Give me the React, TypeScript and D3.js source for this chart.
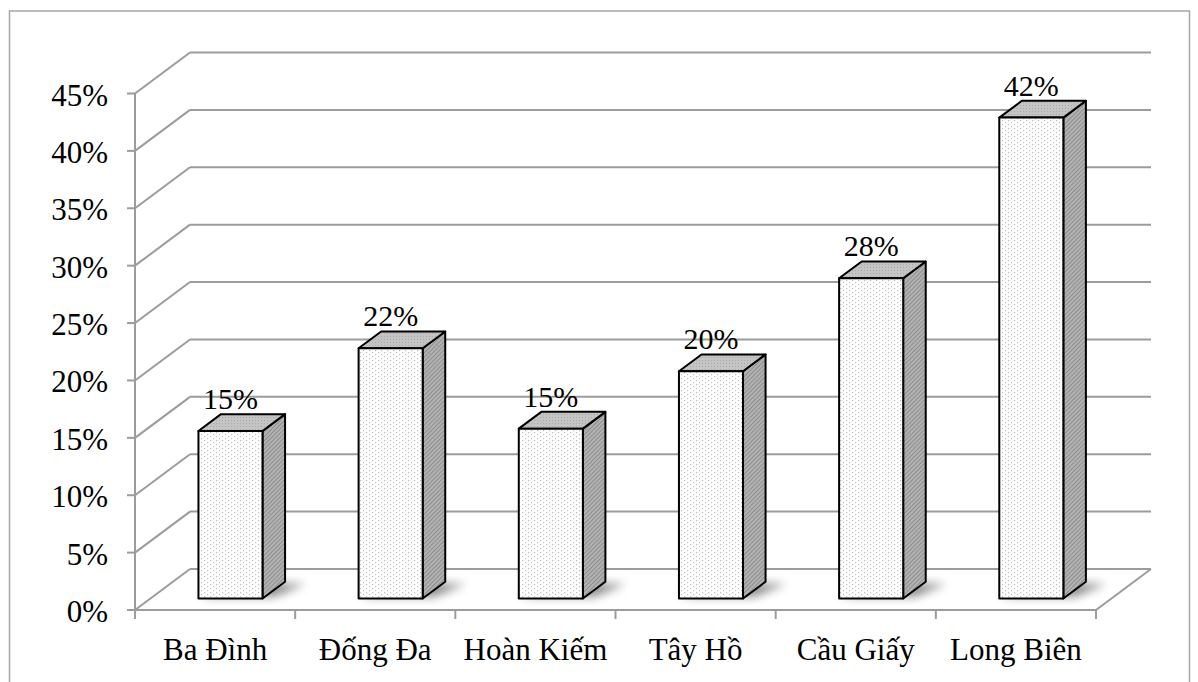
import React from "react";
import * as d3 from "d3";

const categories = ["Ba Đình", "Đống Đa", "Hoàn Kiếm", "Tây Hồ", "Cầu Giấy", "Long Biên"];
const values = [0.146, 0.218, 0.148, 0.198, 0.279, 0.419];
const yTicks = [0, 0.05, 0.1, 0.15, 0.2, 0.25, 0.3, 0.35, 0.4, 0.45];

const W = 1198;
const H = 682;
const DX = 55;
const DY = -41;
const T0 = 0.28;
const T1 = 0.69;
const FONT = "'Times New Roman', 'Liberation Serif', serif";

export default function App() {
  const x = d3
    .scaleBand<string>()
    .domain(categories)
    .range([135, 1096])
    .paddingInner(0.6)
    .paddingOuter(0.3);
  const y = d3.scaleLinear().domain([0, 0.45]).range([610, 93.5]);
  const fmt = d3.format(".0%");
  const step = x.step();
  const x0r = 135;
  const x1r = 1096;
  const bw = x.bandwidth();
  const ddx = (T1 - T0) * DX;
  const ddy = (T1 - T0) * DY;
  const grid = "#9c9c9c";
  const pts = (p: number[][]) => p.map((q) => q.join(",")).join(" ");

  return (
    <svg
      width={W}
      height={H}
      style={{ position: "absolute", left: 0, top: 0, background: "#fff" }}
    >
      <defs>
        <pattern id="dots" width="6" height="4" patternUnits="userSpaceOnUse">
          <rect width="6" height="4" fill="#ffffff" />
          <rect x="0" y="0" width="1.2" height="1.2" fill="#bdbdbd" />
          <rect x="3" y="2" width="1.2" height="1.2" fill="#bdbdbd" />
        </pattern>
        <pattern id="topPat" width="3" height="3" patternUnits="userSpaceOnUse">
          <rect width="3" height="3" fill="#c4c4c4" />
          <rect x="0" y="0" width="1" height="1" fill="#aaaaaa" />
        </pattern>
        <pattern
          id="sidePat"
          width="3"
          height="3"
          patternUnits="userSpaceOnUse"
          patternTransform="rotate(45)"
        >
          <rect width="3" height="3" fill="#b2b2b2" />
          <rect x="0" y="0" width="1" height="3" fill="#8f8f8f" />
        </pattern>
        <filter id="blur" x="-50%" y="-200%" width="200%" height="500%">
          <feGaussianBlur stdDeviation="5" />
        </filter>
      </defs>

      {/* outer border */}
      <rect x={9.5} y={11} width={1180} height={690} fill="#fff" stroke="#a6a6a6" strokeWidth={1.5} />

      {/* grid: left wall diagonals + back wall */}
      {yTicks.map((t) => (
        <g key={"g" + t}>
          <line x1={x0r} y1={y(t)} x2={x0r + DX} y2={y(t) + DY} stroke={grid} strokeWidth={2} />
          <line x1={x0r + DX} y1={y(t) + DY} x2={x1r + DX} y2={y(t) + DY} stroke={grid} strokeWidth={2} />
        </g>
      ))}
      {/* floor */}
      <line x1={x0r} y1={y(0)} x2={x1r} y2={y(0)} stroke={grid} strokeWidth={2} />
      <line x1={x1r} y1={y(0)} x2={x1r + DX} y2={y(0) + DY} stroke={grid} strokeWidth={2} />
      {/* vertical axis */}
      <line x1={x0r} y1={y(0.45)} x2={x0r} y2={y(0)} stroke={grid} strokeWidth={2} />
      {yTicks.map((t) => (
        <line key={"t" + t} x1={x0r - 8} y1={y(t)} x2={x0r} y2={y(t)} stroke={grid} strokeWidth={2} />
      ))}
      {d3.range(categories.length + 1).map((i) => (
        <line
          key={"c" + i}
          x1={x0r + i * step}
          y1={y(0)}
          x2={x0r + i * step}
          y2={y(0) + 9}
          stroke={grid}
          strokeWidth={2}
        />
      ))}

      {/* y labels */}
      {yTicks.map((t) => (
        <text
          key={"yl" + t}
          x={108}
          y={y(t) + 12}
          textAnchor="end"
          fontFamily={FONT}
          fontSize={31}
          fill="#000"
        >
          {fmt(t)}
        </text>
      ))}

      {/* shadows */}
      {categories.map((c) => {
        const bx = (x(c) as number) + T0 * DX;
        const by = y(0) + T0 * DY;
        return (
          <polygon
            key={"s" + c}
            points={pts([
              [bx + 2, by - 2],
              [bx + bw + 12, by - 2],
              [bx + bw + ddx + 20, by + ddy + 2],
              [bx + ddx + 8, by + ddy + 2],
            ])}
            fill="#555"
            opacity={0.7}
            filter="url(#blur)"
          />
        );
      })}

      {/* bars */}
      {categories.map((c, i) => {
        const v = values[i];
        const bx = (x(c) as number) + T0 * DX;
        const yb = y(0) + T0 * DY;
        const yt = y(v) + T0 * DY;
        return (
          <g key={"b" + c} stroke="#000" strokeWidth={2} strokeLinejoin="round">
            <polygon
              points={pts([
                [bx + bw, yt],
                [bx + bw + ddx, yt + ddy],
                [bx + bw + ddx, yb + ddy],
                [bx + bw, yb],
              ])}
              fill="url(#sidePat)"
            />
            <polygon
              points={pts([
                [bx, yt],
                [bx + bw, yt],
                [bx + bw + ddx, yt + ddy],
                [bx + ddx, yt + ddy],
              ])}
              fill="url(#topPat)"
            />
            <rect x={bx} y={yt} width={bw} height={yb - yt} fill="url(#dots)" />
          </g>
        );
      })}

      {/* data labels */}
      {categories.map((c, i) => {
        const bx = (x(c) as number) + T0 * DX;
        const yt = y(values[i]) + T0 * DY;
        return (
          <text
            key={"dl" + c}
            x={bx + bw / 2}
            y={yt - 22}
            textAnchor="middle"
            fontFamily={FONT}
            fontSize={30}
            fill="#000"
          >
            {fmt(values[i])}
          </text>
        );
      })}

      {/* category labels */}
      {categories.map((c) => (
        <text
          key={"cl" + c}
          x={(x(c) as number) + bw / 2}
          y={660}
          textAnchor="middle"
          fontFamily={FONT}
          fontSize={31}
          fill="#000"
        >
          {c}
        </text>
      ))}
    </svg>
  );
}
